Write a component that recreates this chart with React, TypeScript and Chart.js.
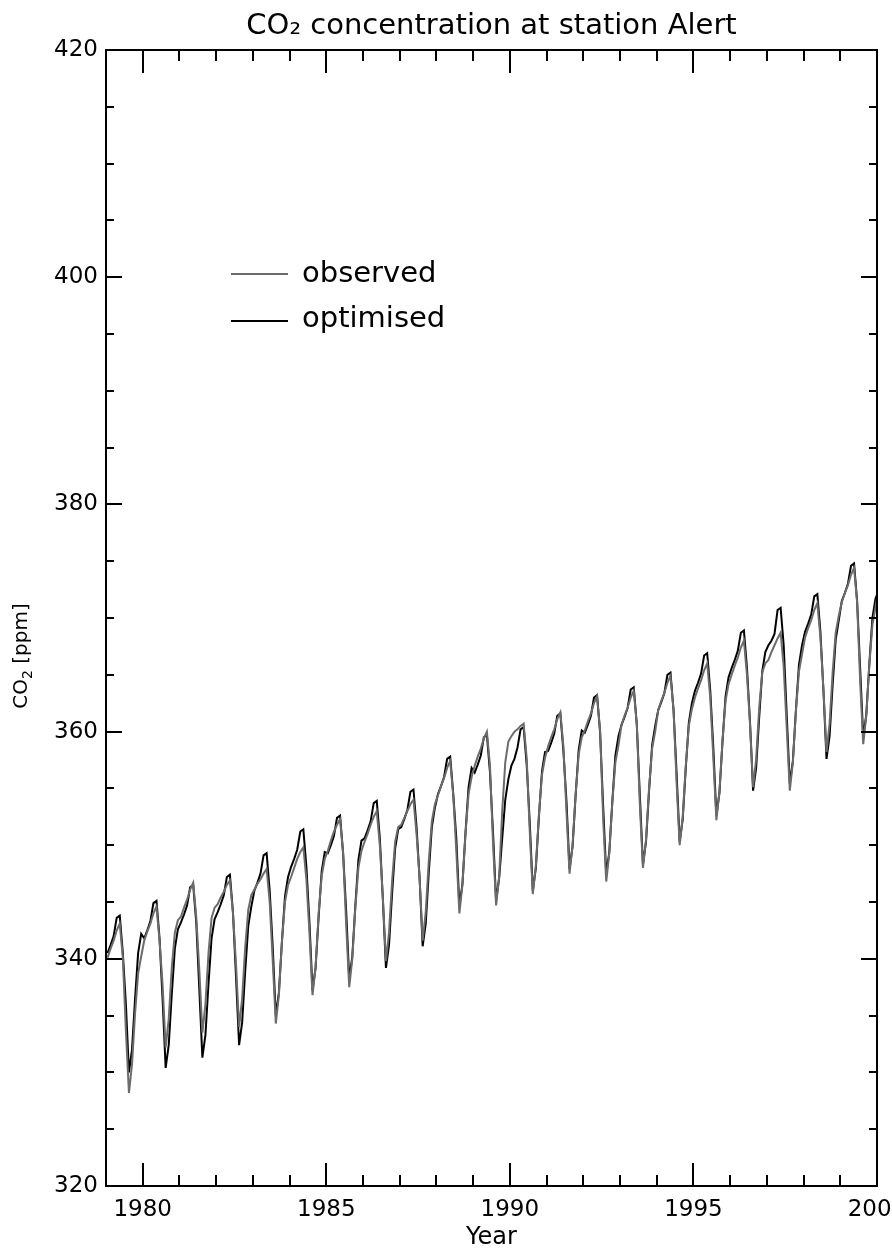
import { useEffect, useRef } from 'react';
import { Chart, registerables } from 'chart.js';

Chart.register(...registerables);

// Monthly values, starting January 1979 (mid-month points)
const START_YEAR = 1979;

const observed = [
  340.1, 340.9, 341.6, 342.5, 343.1, 340.1, 333.7, 328.2, 330.7, 335.2, 338.7, 340.2,
  341.6, 342.4, 343.1, 344.0, 344.6, 341.6, 337.7, 332.2, 334.7, 339.2, 342.3, 343.4,
  343.7, 344.5, 345.2, 346.1, 346.7, 343.7, 339.0, 333.5, 336.0, 340.5, 343.6, 344.5,
  344.8, 345.4, 345.9, 346.5, 346.9, 344.0, 339.5, 334.0, 336.5, 341.0, 344.3, 345.6,
  346.1, 346.6, 347.0, 347.5, 347.9, 345.0, 339.8, 334.3, 336.8, 341.5, 345.0, 346.5,
  347.2, 348.0, 348.8, 349.4, 349.8, 347.0, 342.3, 336.8, 339.3, 344.0, 347.3, 348.8,
  349.5, 350.4, 351.2, 351.8, 352.3, 349.3, 343.0, 337.5, 340.0, 344.5, 348.0, 349.5,
  350.3, 351.0, 351.8, 352.5, 353.0, 350.0, 345.3, 339.8, 342.3, 346.8, 350.3, 351.6,
  351.8, 352.4, 353.0, 353.6, 354.0, 351.0, 347.1, 341.6, 344.1, 348.6, 352.1, 353.6,
  354.4, 355.2, 355.9, 356.8, 357.4, 354.4, 349.5, 344.0, 346.5, 351.0, 354.5, 356.0,
  357.0, 357.8, 358.5, 359.4, 360.0, 357.0, 350.2, 344.7, 347.2, 353.0, 357.3, 359.1,
  359.6, 360.0, 360.2, 360.5, 360.7, 357.7, 351.2, 345.7, 348.2, 352.7, 356.2, 357.7,
  358.7, 359.5, 360.2, 361.1, 361.7, 358.7, 353.0, 347.5, 350.0, 354.5, 358.0, 359.5,
  360.1, 360.9, 361.6, 362.5, 363.1, 360.1, 352.3, 346.8, 349.3, 353.8, 357.3, 358.8,
  360.6, 361.4, 362.1, 363.0, 363.6, 360.6, 353.5, 348.0, 350.5, 355.0, 358.5, 360.0,
  361.9, 362.7, 363.4, 364.3, 364.9, 361.9, 355.5, 350.0, 352.5, 357.0, 360.5, 362.0,
  363.0, 363.8, 364.5, 365.4, 366.0, 363.0, 357.7, 352.2, 354.7, 359.2, 362.7, 364.2,
  365.0, 365.8, 366.5, 367.4, 368.0, 365.0, 360.6, 355.1, 357.6, 362.1, 365.2, 366.0,
  366.3, 367.0, 367.6, 368.2, 368.7, 365.7, 360.3, 354.8, 357.3, 361.8, 365.3, 366.8,
  368.3, 369.1, 369.8, 370.7, 371.3, 368.3, 363.7, 358.2, 360.7, 365.2, 368.7, 370.2,
  371.4, 372.2, 372.9, 373.8, 374.4, 371.4, 364.4, 358.9, 361.4, 365.9, 369.4, 370.9,
  372.6,
];

const optimised = [
  340.5, 341.2, 342.0, 343.6, 343.8, 340.5, 336.0, 330.0, 332.0, 336.5, 340.5, 342.2,
  341.8, 342.5, 343.3, 344.9, 345.1, 341.8, 336.4, 330.4, 332.4, 336.9, 340.9, 342.6,
  343.2, 343.9, 344.7, 346.3, 346.5, 343.2, 337.3, 331.3, 333.3, 337.8, 341.8, 343.5,
  344.1, 344.8, 345.6, 347.2, 347.4, 344.1, 338.4, 332.4, 334.4, 338.9, 342.9, 344.6,
  346.0, 346.7, 347.5, 349.1, 349.3, 346.0, 341.0, 335.0, 337.0, 341.5, 345.5, 347.2,
  348.1, 348.8, 349.6, 351.2, 351.4, 348.1, 343.2, 337.2, 339.2, 343.7, 347.7, 349.4,
  349.3, 350.0, 350.8, 352.4, 352.6, 349.3, 344.2, 338.2, 340.2, 344.7, 348.7, 350.4,
  350.6, 351.3, 352.1, 353.7, 353.9, 350.6, 345.2, 339.2, 341.2, 345.7, 349.7, 351.4,
  351.6, 352.3, 353.1, 354.7, 354.9, 351.6, 347.1, 341.1, 343.1, 347.6, 351.6, 353.3,
  354.5, 355.2, 356.0, 357.6, 357.8, 354.5, 350.6, 344.6, 346.6, 351.1, 355.1, 356.8,
  356.4, 357.1, 357.9, 359.5, 359.7, 356.4, 351.1, 345.1, 347.1, 350.6, 354.0, 355.8,
  357.0, 357.6, 358.6, 360.2, 360.4, 357.1, 352.0, 346.0, 348.0, 352.5, 356.5, 358.2,
  358.3, 359.0, 359.8, 361.4, 361.6, 358.3, 353.9, 347.9, 349.9, 354.4, 358.4, 360.1,
  359.9, 360.6, 361.4, 363.0, 363.2, 359.9, 353.4, 347.4, 349.4, 353.9, 357.9, 359.6,
  360.6, 361.3, 362.1, 363.7, 363.9, 360.6, 354.3, 348.3, 350.3, 354.8, 358.8, 360.5,
  361.9, 362.6, 363.4, 365.0, 365.2, 361.9, 356.3, 350.3, 352.3, 356.8, 360.8, 362.5,
  363.6, 364.3, 365.1, 366.7, 366.9, 363.6, 358.6, 352.6, 354.6, 359.1, 363.1, 364.8,
  365.6, 366.3, 367.1, 368.7, 368.9, 365.6, 360.8, 354.8, 356.8, 361.3, 365.3, 367.0,
  367.6, 368.0, 368.6, 370.7, 370.9, 367.6, 361.4, 355.4, 357.4, 361.9, 365.9, 367.6,
  368.8, 369.5, 370.3, 371.9, 372.1, 368.8, 363.6, 357.6, 359.6, 364.1, 368.1, 369.8,
  371.5, 372.2, 373.0, 374.6, 374.8, 371.5, 365.5, 359.5, 361.5, 366.0, 370.0, 371.7,
  372.4,
];

const xLabelYears = [1980, 1985, 1990, 1995, 2000];
const yLabelValues = [320, 340, 360, 380, 400, 420];
const yAxisLabel = ['CO', '2', ' [ppm]'];

const FONT = "'DejaVu Sans', 'Liberation Sans', sans-serif";
const GRAY = '#6b6b6b';

const toPoints = (vals: number[]) =>
  vals.map((v, i) => ({ x: START_YEAR + (i + 0.5) / 12, y: v }));

const framePlugin = {
  id: 'idlFrame',
  afterDraw(chart: any) {
    const { ctx, chartArea: a, scales } = chart;
    const xs = scales.x;
    const ys = scales.y;
    ctx.save();
    ctx.strokeStyle = '#000';
    ctx.lineWidth = 2;
    ctx.lineCap = 'butt';
    ctx.strokeRect(a.left, a.top, a.right - a.left, a.bottom - a.top);
    ctx.beginPath();
    for (const t of xs.ticks) {
      const px = Math.round(xs.getPixelForValue(t.value));
      const len = xLabelYears.includes(t.value) ? 23 : 11;
      ctx.moveTo(px, a.bottom);
      ctx.lineTo(px, a.bottom - len);
      ctx.moveTo(px, a.top);
      ctx.lineTo(px, a.top + len);
    }
    for (const t of ys.ticks) {
      const py = Math.round(ys.getPixelForValue(t.value));
      const len = yLabelValues.includes(t.value) ? 16 : 8;
      ctx.moveTo(a.left, py);
      ctx.lineTo(a.left + len, py);
      ctx.moveTo(a.right, py);
      ctx.lineTo(a.right - len, py);
    }
    ctx.stroke();

    // legend inside the plot
    const ds = chart.data.datasets;
    const rows = [
      { y: 274, base: 282 },
      { y: 321, base: 327 },
    ];
    ds.forEach((d: any, i: number) => {
      const r = rows[i];
      ctx.beginPath();
      ctx.strokeStyle = d.borderColor;
      ctx.lineWidth = 2;
      ctx.moveTo(231, r.y);
      ctx.lineTo(288, r.y);
      ctx.stroke();
      ctx.fillStyle = '#000';
      ctx.font = `29px ${FONT}`;
      ctx.textAlign = 'left';
      ctx.textBaseline = 'alphabetic';
      ctx.fillText(d.label, 302, r.base);
    });

    // y-axis title with subscript, rotated
    ctx.save();
    ctx.translate(27, 656);
    ctx.rotate(-Math.PI / 2);
    ctx.fillStyle = '#000';
    ctx.textBaseline = 'alphabetic';
    ctx.textAlign = 'left';
    const big = `20px ${FONT}`;
    const small = `14px ${FONT}`;
    ctx.font = big;
    const w0 = ctx.measureText(yAxisLabel[0]).width;
    const w2 = ctx.measureText(yAxisLabel[2]).width;
    ctx.font = small;
    const w1 = ctx.measureText(yAxisLabel[1]).width;
    let x0 = -(w0 + w1 + w2) / 2;
    ctx.font = big;
    ctx.fillText(yAxisLabel[0], x0, 0);
    x0 += w0;
    ctx.font = small;
    ctx.fillText(yAxisLabel[1], x0, 5);
    x0 += w1;
    ctx.font = big;
    ctx.fillText(yAxisLabel[2], x0, 0);
    ctx.restore();

    ctx.restore();
  },
};

export default function App() {
  const ref = useRef<HTMLCanvasElement | null>(null);

  useEffect(() => {
    if (!ref.current) return;
    const chart = new Chart(ref.current, {
      type: 'line',
      data: {
        datasets: [
          {
            label: 'observed',
            data: toPoints(observed),
            borderColor: GRAY,
            borderWidth: 2,
            pointRadius: 0,
            tension: 0,
          },
          {
            label: 'optimised',
            data: toPoints(optimised),
            borderColor: '#000000',
            borderWidth: 2,
            pointRadius: 0,
            tension: 0,
          },
        ],
      },
      options: {
        responsive: false,
        animation: false,
        devicePixelRatio: 1,
        layout: { padding: { left: 0, right: 15, top: 0, bottom: 0 } },
        plugins: {
          legend: { display: false },
          tooltip: { enabled: false },
          title: {
            display: true,
            fullSize: false,
            text: 'CO₂ concentration at station Alert',
            color: '#000',
            font: { family: FONT, size: 29, weight: 'normal' },
            padding: { top: 9, bottom: 6.2 },
          },
        },
        scales: {
          x: {
            type: 'linear',
            min: 1979,
            max: 2000,
            grid: { display: false, drawTicks: false },
            border: { display: false },
            ticks: {
              stepSize: 1,
              autoSkip: false,
              maxRotation: 0,
              minRotation: 0,
              padding: 10,
              color: '#000',
              font: { family: FONT, size: 23 },
              callback: (v: any) => (xLabelYears.includes(Number(v)) ? String(v) : ''),
            },
            title: {
              display: true,
              text: 'Year',
              color: '#000',
              font: { family: FONT, size: 24 },
              padding: { top: 0, bottom: 0 },
            },
            afterFit: (s: any) => {
              s.height = 66;
              s.paddingLeft = 0;
              s.paddingRight = 0;
            },
          },
          y: {
            type: 'linear',
            min: 320,
            max: 420,
            grid: { display: false, drawTicks: false },
            border: { display: false },
            ticks: {
              stepSize: 5,
              autoSkip: false,
              padding: 8,
              color: '#000',
              font: { family: FONT, size: 23 },
              callback: (v: any) => (yLabelValues.includes(Number(v)) ? String(v) : ''),
            },
            title: { display: false },
            afterFit: (s: any) => {
              s.width = 106;
              s.paddingTop = 0;
              s.paddingBottom = 0;
            },
          },
        },
      } as any,
      plugins: [framePlugin],
    });
    return () => chart.destroy();
  }, []);

  return (
    <div
      style={{
        position: 'absolute',
        left: 0,
        top: 0,
        width: 892,
        height: 1252,
        overflow: 'hidden',
        background: '#fff',
      }}
    >
      <canvas ref={ref} width={892} height={1252} style={{ display: 'block', width: 892, height: 1252 }} />
    </div>
  );
}
